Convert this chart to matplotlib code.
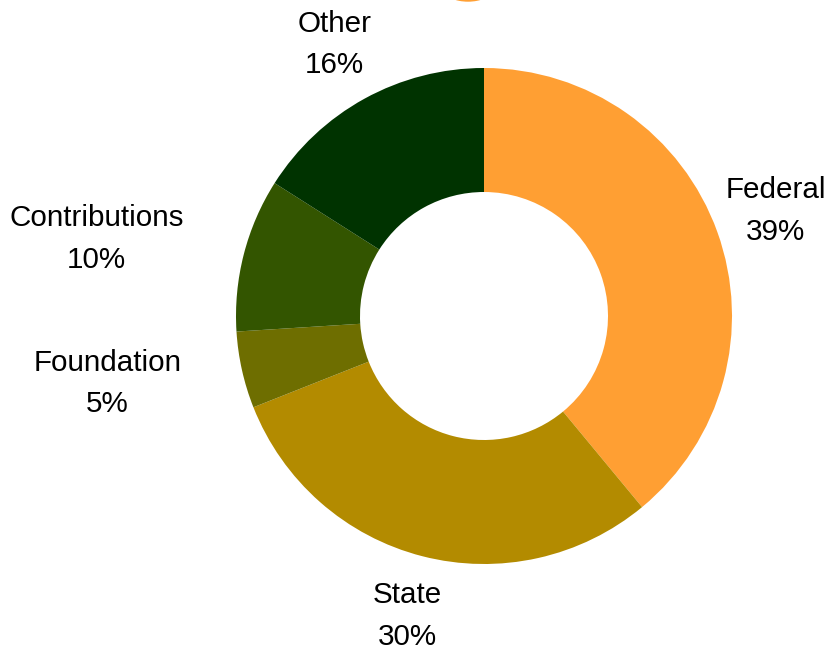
import matplotlib
matplotlib.use("Agg")
import matplotlib.pyplot as plt
from matplotlib.patches import Ellipse

plt.rcParams['font.family'] = ['Liberation Sans', 'DejaVu Sans']

categories = ["Federal", "State", "Foundation", "Contributions", "Other"]
values = [39, 30, 5, 10, 16]
colors = ["#ff9f33", "#b38b00", "#6e6e00", "#335500", "#003300"]
label_align = ["center", "center", "right", "right", "center"]

fig = plt.figure(figsize=(8.32, 6.46), dpi=100)
ax = fig.add_axes([0, 0, 1, 1])
ax.set_xlim(0, 832)
ax.set_ylim(0, 646)
ax.set_aspect('equal')
ax.axis('off')

labels = [f"{c}\n{v}%" for c, v in zip(categories, values)]
wedges, texts = ax.pie(values, colors=colors, startangle=90, counterclock=False,
                       center=(484, 330), radius=248, labels=labels,
                       labeldistance=1.25, frame=True,
                       wedgeprops=dict(width=124, linewidth=0),
                       textprops=dict(fontsize=21.3, linespacing=1.62, color="#000000"))
for t, ha in zip(texts, label_align):
    t.set_ha(ha)
    t.set_va("center")
    t.set_multialignment("center")
ax.set_xlim(0, 832)
ax.set_ylim(0, 646)
ax.axis('off')

# cropped orange marker at top edge
ax.add_patch(Ellipse((468, 656), 46, 22, color="#ff9f33", clip_on=True))

fig.savefig("out.png", dpi=100)
